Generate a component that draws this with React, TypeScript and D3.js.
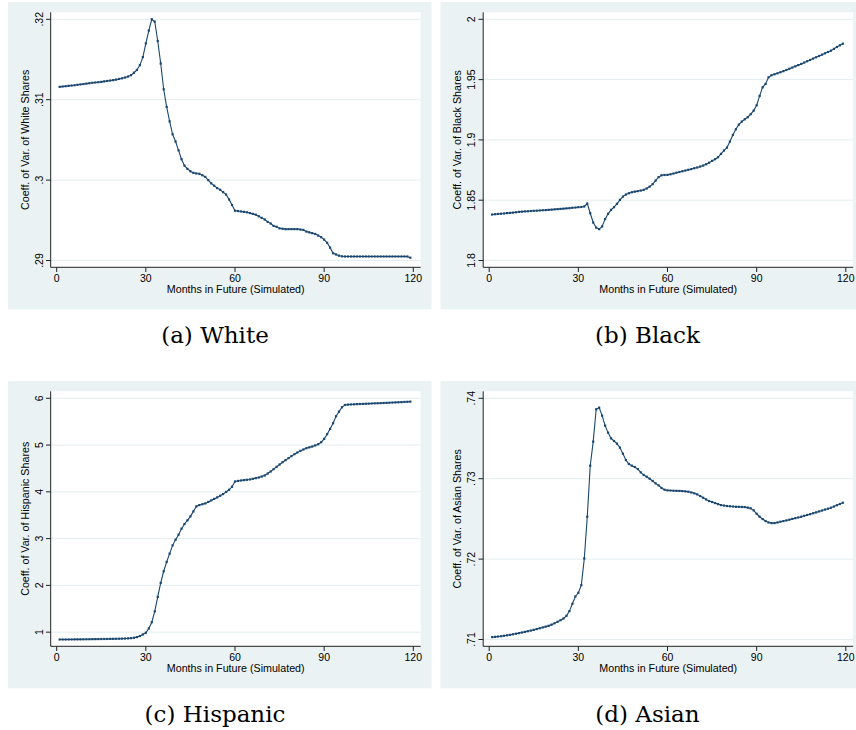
import React from 'react';
import * as d3 from 'd3';

// months simulated (x axis)
const months = d3.range(1, 120);
const xTicks = [0, 30, 60, 90, 120];

const whiteShares = [
  0.3116, 0.31164, 0.31168, 0.31172, 0.31176, 0.3118, 0.31185, 0.3119, 0.31195, 0.312,
  0.31205, 0.3121, 0.31214, 0.31218, 0.31222, 0.31228, 0.31233, 0.31238, 0.31243, 0.3125,
  0.31258, 0.31266, 0.31276, 0.31288, 0.31305, 0.31335, 0.3137, 0.3143, 0.3153, 0.317,
  0.3186, 0.32, 0.3197, 0.3173, 0.3145, 0.3113, 0.3091, 0.3073, 0.3057, 0.3048,
  0.3037, 0.3026, 0.3018, 0.3014, 0.3011, 0.3009, 0.30083, 0.30079, 0.3006, 0.3004,
  0.3, 0.2996, 0.2993, 0.299, 0.2988, 0.2985, 0.2982, 0.2976, 0.2969, 0.2962,
  0.29615, 0.2961, 0.29605, 0.296, 0.2959, 0.2958, 0.2957, 0.2955, 0.2953, 0.2951,
  0.2948, 0.2946, 0.2943, 0.2942, 0.294, 0.29395, 0.2939, 0.2939, 0.2939, 0.2939,
  0.2939, 0.29385, 0.2938, 0.2936, 0.2935, 0.2934, 0.2933, 0.2931, 0.2929, 0.2926,
  0.2922, 0.2916, 0.2909, 0.29075, 0.2906, 0.29052, 0.2905, 0.2905, 0.2905, 0.2905,
  0.2905, 0.2905, 0.2905, 0.2905, 0.2905, 0.2905, 0.2905, 0.2905, 0.2905, 0.2905,
  0.2905, 0.2905, 0.2905, 0.2905, 0.2905, 0.2905, 0.2905, 0.2905, 0.29035
];

const blackShares = [
  1.8381, 1.8384, 1.8386, 1.8388, 1.839, 1.8393, 1.8395, 1.8397, 1.84, 1.8403,
  1.8405, 1.8407, 1.8408, 1.841, 1.8412, 1.8413, 1.8415, 1.8417, 1.8418, 1.842,
  1.8422, 1.8424, 1.8426, 1.8428, 1.843, 1.8432, 1.8434, 1.8437, 1.8439, 1.8442,
  1.8444, 1.8448, 1.8472, 1.8392, 1.8315, 1.8273, 1.826, 1.8282, 1.8343, 1.8387,
  1.842, 1.8442, 1.847, 1.8503, 1.853, 1.8547, 1.8558, 1.8566, 1.8571, 1.8575,
  1.858, 1.8586, 1.8597, 1.8613, 1.8633, 1.8663, 1.8691, 1.8707, 1.8709, 1.871,
  1.8715, 1.8721, 1.8728, 1.8734, 1.874, 1.8746, 1.8752, 1.8758, 1.8765, 1.8771,
  1.8779, 1.8787, 1.8798, 1.8811, 1.8826, 1.884, 1.8856, 1.8884, 1.8912, 1.8936,
  1.8986, 1.9041, 1.9088, 1.9127, 1.9152, 1.9171, 1.9188, 1.9213, 1.9243, 1.9287,
  1.9365, 1.9436, 1.9464, 1.9519, 1.9536, 1.9544, 1.9552, 1.9561, 1.957, 1.958,
  1.959, 1.96, 1.961, 1.962, 1.963, 1.9641, 1.9652, 1.9663, 1.9674, 1.9685,
  1.9696, 1.9707, 1.9718, 1.9729, 1.974, 1.9755, 1.977, 1.9784, 1.9798
];

const hispanicShares = [
  0.843, 0.843, 0.843, 0.844, 0.844, 0.845, 0.845, 0.846, 0.847, 0.848,
  0.849, 0.85, 0.851, 0.852, 0.853, 0.854, 0.855, 0.856, 0.857, 0.858,
  0.86, 0.862, 0.864, 0.867, 0.872, 0.88, 0.894, 0.917, 0.951, 0.987,
  1.079, 1.213, 1.445, 1.754, 2.053, 2.302, 2.501, 2.679, 2.856, 2.977,
  3.084, 3.212, 3.312, 3.39, 3.475, 3.582, 3.689, 3.717, 3.735, 3.753,
  3.785, 3.817, 3.849, 3.881, 3.916, 3.952, 3.998, 4.044, 4.108, 4.222,
  4.233, 4.243, 4.25, 4.258, 4.265, 4.279, 4.293, 4.307, 4.328, 4.35,
  4.392, 4.435, 4.485, 4.535, 4.585, 4.634, 4.677, 4.72, 4.763, 4.805,
  4.841, 4.876, 4.905, 4.933, 4.951, 4.969, 4.993, 5.018, 5.061, 5.132,
  5.232, 5.346, 5.467, 5.616, 5.716, 5.808, 5.858, 5.865, 5.869, 5.872,
  5.875, 5.878, 5.88, 5.883, 5.886, 5.889, 5.892, 5.894, 5.897, 5.9,
  5.903, 5.906, 5.909, 5.912, 5.915, 5.918, 5.922, 5.925, 5.929
];

const asianShares = [
  0.7103, 0.71033, 0.71037, 0.71041, 0.71046, 0.71052, 0.71058, 0.71065, 0.71072, 0.71079,
  0.71087, 0.71095, 0.71103, 0.71111, 0.7112, 0.7113, 0.7114, 0.7115, 0.7116, 0.7117,
  0.71185, 0.71202, 0.7122, 0.7124, 0.71261, 0.71295, 0.71353, 0.71444, 0.71535, 0.71581,
  0.71676, 0.72008, 0.72527, 0.73162, 0.73461, 0.73863, 0.73884, 0.73784, 0.7366, 0.73573,
  0.73502, 0.73469, 0.73436, 0.73386, 0.73311, 0.73232, 0.73183, 0.73162, 0.73145, 0.7312,
  0.73079, 0.73046, 0.73025, 0.73, 0.72971, 0.72942, 0.72917, 0.72884, 0.72863, 0.72855,
  0.72853, 0.72851, 0.72849, 0.72848, 0.72846, 0.72842, 0.72838, 0.72829, 0.72818, 0.72805,
  0.72784, 0.72763, 0.72742, 0.72722, 0.7271, 0.72697, 0.72684, 0.72672, 0.72666, 0.7266,
  0.72657, 0.72654, 0.72651, 0.7265, 0.72648, 0.72647, 0.7264, 0.72631, 0.72606, 0.72564,
  0.72527, 0.72498, 0.72473, 0.72456, 0.72448, 0.72448, 0.72456, 0.72465, 0.72473, 0.72481,
  0.7249, 0.725, 0.72509, 0.72518, 0.72527, 0.72538, 0.72549, 0.72559, 0.7257, 0.72581,
  0.72593, 0.72604, 0.72616, 0.72627, 0.72639, 0.72654, 0.7267, 0.72685, 0.72701
];

const whiteTicks = [0.29, 0.3, 0.31, 0.32];
const whiteTickLabels = ['.29', '.3', '.31', '.32'];
const blackTicks = [1.8, 1.85, 1.9, 1.95, 2];
const blackTickLabels = ['1.8', '1.85', '1.9', '1.95', '2'];
const hispanicTicks = [1, 2, 3, 4, 5, 6];
const hispanicTickLabels = ['1', '2', '3', '4', '5', '6'];
const asianTicks = [0.71, 0.72, 0.73, 0.74];
const asianTickLabels = ['.71', '.72', '.73', '.74'];

const groups = ['White', 'Black', 'Hispanic', 'Asian'];
const captions = ['(a) White', '(b) Black', '(c) Hispanic', '(d) Asian'];
const xTitle = 'Months in Future (Simulated)';

const BG = '#EAF2F3';
const GRID = '#E3EDEF';
const LINE = '#1A476F';
const SANS = '"Liberation Sans", Arial, sans-serif';

interface PanelProps {
  x: number;
  y: number;
  values: number[];
  ticks: number[];
  tickLabels: string[];
  yTitle: string;
  caption: string;
}

const PANEL_W = 423.5;
const PANEL_H = 307.3;
const PLOT_X = 42.7;
const PLOT_Y = 10.3;
const PLOT_W = 370;
const PLOT_H = 255;

const Panel: React.FC<PanelProps> = ({ x, y, values, ticks, tickLabels, yTitle, caption }) => {
  const xScale = d3.scaleLinear().domain([0, 120]).range([6, PLOT_W - 7.4]);
  const lo = Math.min(d3.min(values) as number, d3.min(ticks) as number);
  const hi = Math.max(d3.max(values) as number, d3.max(ticks) as number);
  const yScale = d3.scaleLinear().domain([lo, hi]).range([PLOT_H - 6.8, 7]);

  const pts = months.map((m, i) => [m, values[i]] as [number, number]);
  const line = d3.line<[number, number]>()
    .x(d => xScale(d[0]))
    .y(d => yScale(d[1]));

  return (
    <g transform={`translate(${x},${y})`}>
      <rect x={0} y={0} width={PANEL_W} height={PANEL_H} fill={BG} />
      <g transform={`translate(${PLOT_X},${PLOT_Y})`}>
        <rect x={0} y={0} width={PLOT_W} height={PLOT_H} fill="#fff" />
        {ticks.map((t, i) => (
          <line key={`g${i}`} x1={0} x2={PLOT_W} y1={yScale(t)} y2={yScale(t)} stroke={GRID} strokeWidth={1} />
        ))}
        <path d={line(pts) || ''} fill="none" stroke={LINE} strokeWidth={1.1} />
        {pts.map((p, i) => (
          <rect key={`m${i}`} x={xScale(p[0]) - 1.1} y={yScale(p[1]) - 1.1} width={2.2} height={2.2} fill={LINE} />
        ))}
        {/* axes */}
        <line x1={0} x2={0} y1={0} y2={PLOT_H} stroke="#222" strokeWidth={1} />
        <line x1={0} x2={PLOT_W} y1={PLOT_H} y2={PLOT_H} stroke="#222" strokeWidth={1} />
        {ticks.map((t, i) => (
          <g key={`yt${i}`}>
            <line x1={-4.7} x2={0} y1={yScale(t)} y2={yScale(t)} stroke="#222" strokeWidth={1} />
            <text
              transform={`translate(${-11.4},${yScale(t)}) rotate(-90)`}
              textAnchor="middle"
              dy="0.35em"
              fontFamily={SANS}
              fontSize={10.5}
              fill="#000"
            >
              {tickLabels[i]}
            </text>
          </g>
        ))}
        {xTicks.map(t => (
          <g key={`xt${t}`}>
            <line x1={xScale(t)} x2={xScale(t)} y1={PLOT_H} y2={PLOT_H + 4.7} stroke="#222" strokeWidth={1} />
            <text x={xScale(t)} y={PLOT_H + 11} dy="0.35em" textAnchor="middle" fontFamily={SANS} fontSize={10.5} fill="#000">
              {t}
            </text>
          </g>
        ))}
        <text x={PLOT_W / 2} y={PLOT_H + 22} dy="0.35em" textAnchor="middle" fontFamily={SANS} fontSize={10.7} fill="#000">
          {xTitle}
        </text>
        <text
          transform={`translate(${-25.7},${PLOT_H / 2}) rotate(-90)`}
          textAnchor="middle"
          dy="0.35em"
          fontFamily={SANS}
          fontSize={10.7}
          fill="#000"
        >
          {yTitle}
        </text>
      </g>
      <text x={207} y={333} dy="0.35em" textAnchor="middle" fontFamily='"DejaVu Serif", serif' fontSize={23} fill="#000">
        {caption}
      </text>
    </g>
  );
};

const App: React.FC = () => {
  const series = [whiteShares, blackShares, hispanicShares, asianShares];
  const tickSets = [whiteTicks, blackTicks, hispanicTicks, asianTicks];
  const labelSets = [whiteTickLabels, blackTickLabels, hispanicTickLabels, asianTickLabels];
  const origins = [[8, 2], [440.5, 2], [8, 381], [440.5, 381]];

  return (
    <svg width={856} height={730} style={{ position: 'absolute', left: 0, top: 0, background: '#fff' }}>
      {groups.map((g, i) => (
        <Panel
          key={g}
          x={origins[i][0]}
          y={origins[i][1]}
          values={series[i]}
          ticks={tickSets[i]}
          tickLabels={labelSets[i]}
          yTitle={`Coeff. of Var. of ${g} Shares`}
          caption={captions[i]}
        />
      ))}
    </svg>
  );
};

export default App;
